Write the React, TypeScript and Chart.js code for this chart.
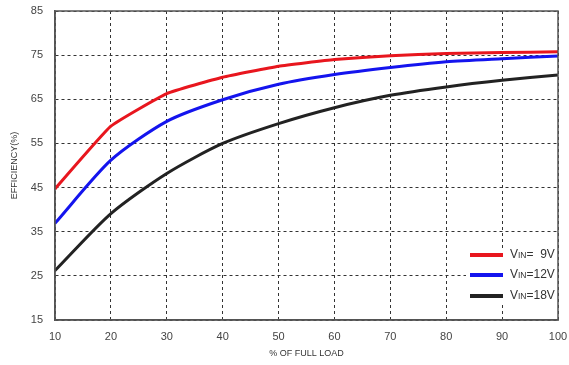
import React, { useEffect, useRef } from "react";
import { Chart, registerables } from "chart.js";

Chart.register(...registerables);

const loads = [10, 20, 30, 40, 50, 60, 70, 80, 90, 100];
const vin9 = [44.7, 58.9, 66.3, 70.0, 72.5, 74.0, 74.85, 75.4, 75.6, 75.75];
const vin12 = [36.9, 51.2, 60.0, 64.9, 68.4, 70.6, 72.2, 73.5, 74.2, 74.8];
const vin18 = [26.2, 39.1, 48.2, 55.0, 59.5, 63.1, 65.9, 67.8, 69.3, 70.5];
const seriesNames = ["9V", "12V", "18V"];
const legendLabels = ["  9V", "12V", "18V"];
const colors = ["#e8161e", "#1414ee", "#222222"];
const tensions = [0.12, 0.25, 0.25];
const yMin = 15;
const yMax = 85;

const legendPlugin = {
  id: "vinLegend",
  afterDatasetsDraw(chart: any) {
    const ctx = chart.ctx;
    const ys = [255, 275, 296];
    ctx.save();
    ctx.fillStyle = "#ffffff";
    ctx.fillRect(466, 248, 91, 56);
    chart.data.datasets.forEach((ds: any, i: number) => {
      ctx.strokeStyle = ds.borderColor;
      ctx.lineWidth = 4;
      ctx.beginPath();
      ctx.moveTo(470, ys[i]);
      ctx.lineTo(503, ys[i]);
      ctx.stroke();
      ctx.fillStyle = "#333";
      ctx.textBaseline = "middle";
      ctx.textAlign = "left";
      let x = 510;
      ctx.font = "12px 'Liberation Sans', Arial, sans-serif";
      ctx.fillText("V", x, ys[i]);
      x += ctx.measureText("V").width;
      ctx.font = "8.5px 'Liberation Sans', Arial, sans-serif";
      ctx.fillText("IN", x, ys[i] + 1);
      x += ctx.measureText("IN").width;
      ctx.font = "12px 'Liberation Sans', Arial, sans-serif";
      ctx.fillText("=" + legendLabels[i], x, ys[i]);
    });
    const a = chart.chartArea;
    ctx.strokeStyle = "#555";
    ctx.lineWidth = 1.5;
    ctx.strokeRect(a.left, a.top, a.right - a.left, a.bottom - a.top);
    ctx.restore();
  },
};

export default function App() {
  const ref = useRef<HTMLCanvasElement>(null);
  useEffect(() => {
    document.body.style.margin = "0";
    const mk = (vals: number[]) => loads.map((x, i) => ({ x, y: vals[i] }));
    const all = [vin9, vin12, vin18];
    const chart = new Chart(ref.current!, {
      type: "line",
      data: {
        datasets: all.map((vals, i) => ({
          label: "VIN=" + seriesNames[i],
          data: mk(vals),
          borderColor: colors[i],
          backgroundColor: colors[i],
          borderWidth: 3,
          pointRadius: 0,
          tension: tensions[i],
          borderJoinStyle: "round" as const,
        })),
      },
      options: {
        animation: false,
        responsive: false,
        layout: { padding: { left: 0, right: 11, top: 11, bottom: 0 } },
        plugins: { legend: { display: false }, tooltip: { enabled: false } },
        scales: {
          x: {
            type: "linear",
            min: 10,
            max: 100,
            ticks: {
              stepSize: 10,
              color: "#444",
              padding: 10,
              maxRotation: 0,
              font: { family: "'Liberation Sans', Arial, sans-serif", size: 11 },
            },
            grid: { color: "#333", lineWidth: 1, drawTicks: false },
            border: { display: true, color: "#555", width: 1.5, dash: [3, 3] },
            title: {
              display: true,
              text: "% OF FULL LOAD",
              color: "#333",
              font: { family: "'Liberation Sans', Arial, sans-serif", size: 9 },
              padding: { top: 4, bottom: 6 },
            },
            afterFit: (s: any) => {
              s.height = 45;
              s.paddingLeft = 0;
              s.paddingRight = 0;
            },
          },
          y: {
            min: yMin,
            max: yMax,
            ticks: {
              stepSize: 10,
              color: "#444",
              padding: 12,
              font: { family: "'Liberation Sans', Arial, sans-serif", size: 11 },
            },
            grid: { color: "#333", lineWidth: 1, drawTicks: false },
            border: { display: true, color: "#555", width: 1.5, dash: [3, 3] },
            title: {
              display: true,
              text: "EFFICIENCY(%)",
              color: "#333",
              font: { family: "'Liberation Sans', Arial, sans-serif", size: 9 },
              padding: { top: 9, bottom: 4 },
            },
            afterFit: (s: any) => {
              s.width = 55;
              s.paddingTop = 0;
              s.paddingBottom = 0;
            },
          },
        },
      },
      plugins: [legendPlugin],
    });
    return () => chart.destroy();
  }, []);
  return <canvas ref={ref} width={569} height={365} style={{ display: "block" }} />;
}
